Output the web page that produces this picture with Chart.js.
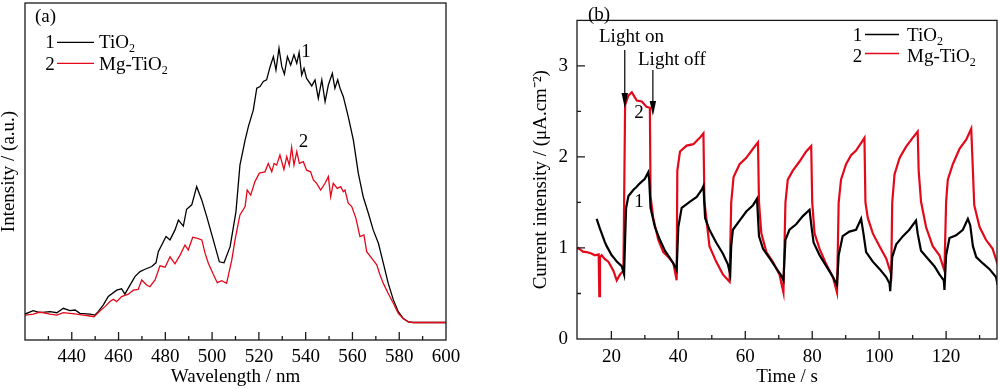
<!DOCTYPE html>
<html><head><meta charset="utf-8">
<script src="https://cdn.jsdelivr.net/npm/chart.js@4.4.1/dist/chart.umd.min.js"></script>
<style>
html,body{margin:0;padding:0;background:#fff;width:1000px;height:389px;overflow:hidden}
#wa{position:absolute;left:0;top:0;width:500px;height:389px}
#wb{position:absolute;left:500px;top:0;width:500px;height:389px}
</style></head><body>
<div id="wa"><canvas id="ca" width="500" height="389"></canvas></div>
<div id="wb"><canvas id="cb" width="500" height="389"></canvas></div>
<script>
// ---------- Panel (a): PL spectra ----------
const wlTiO2 = [420,423.5,426.4,430.7,433.6,436.4,439.2,441.4,443.5,447.8,449.9,451.3,453.5,455.6,459.2,461.3,462.7,464.1,467.0,469.2,471.3,474.2,476.0,477.0,480.3,482.0,484.1,485.6,487.7,489.1,491.3,493.4,495.6,497.7,500.5,503.1,505.1,507.7,510.2,511.9,514.1,515.5,517.6,519.1,520.5,521.9,523.3,524.8,526.2,527.3,528.6,529.8,530.9,532.2,533.6,535.0,536.2,537.2,538.3,539.3,540.4,542.6,544.0,545.4,546.9,548.3,549.7,551.4,552.5,553.7,554.7,556.1,558.2,560.4,562.5,564.6,566.8,568.9,571.1,573.2,575.3,577.5,579.6,581.7,583.9,586.0,600];
const intTiO2 = [7.7,8.7,8.1,8.4,8.1,9.4,8.7,8.9,7.9,7.7,7.4,8.4,10.4,12.9,14.8,15.2,13.6,15.3,18.8,20.3,21.0,21.8,22.9,26.2,30.7,29.7,32.6,35.6,33.8,38.8,40.1,45.5,41.5,36.6,29.7,23.2,22.9,27.7,38.1,51.9,59.3,63.3,68.2,74.7,75.2,76.7,77.2,81.1,84.1,80.1,86.6,81.1,78.9,84.1,81.6,84.6,82.1,85.3,78.6,80.6,77.6,75.4,77.2,71.7,77.2,70.7,75.7,79.1,74.7,77.2,74.7,72.2,66.3,59.3,49.5,42.5,37.6,32.6,28.7,22.8,16.8,11.9,8.4,6.4,5.4,5.2,5.2];
const wlMg = [420,423.5,426.4,430.7,433.6,436.4,439.2,442.1,444.9,447.1,449.5,452.1,454.2,456.3,457.8,459.2,461.3,464.2,466.3,468.4,469.9,472.0,473.4,475.6,477.7,479.9,482.0,484.1,486.3,488.4,489.8,491.7,493.4,495.6,497.0,498.4,500.3,502.2,504.1,506.2,508.4,509.8,511.9,514.1,515.0,516.5,518.3,520.2,522.6,524.0,525.5,526.5,527.6,529.0,530.7,531.9,533.0,534.0,535.0,536.2,537.3,539.0,540.4,542.1,543.3,544.7,546.4,548.3,549.7,550.7,551.8,553.5,555.0,556.1,556.8,558.2,559.7,561.5,563.2,564.9,566.1,568.2,570.4,571.8,573.2,575.3,577.5,579.6,581.7,583.9,586.0,600];
const intMg = [7.4,7.7,8.3,7.7,7.4,8.1,7.9,7.7,7.4,7.2,6.9,8.7,9.9,11.4,12.1,11.4,12.9,13.6,14.8,15.0,17.8,16.3,15.8,17.8,22.0,21.6,24.7,22.6,25.2,28.2,26.7,30.5,30.2,29.7,25.7,22.8,19.8,17.0,17.6,16.8,23.7,29.7,37.1,39.6,44.5,43.0,47.0,49.5,49.9,52.4,49.9,52.4,51.9,54.9,50.6,54.4,51.9,57.2,51.9,55.9,52.4,52.9,50.4,49.9,47.5,46.5,44.5,46.5,48.5,42.5,46.5,45.0,45.5,44.0,44.5,40.6,39.6,36.1,30.7,31.2,26.2,24.3,22.3,19.3,16.8,13.8,10.9,7.9,6.4,5.4,5.2,5.2];
const xTicksA = [440,460,480,500,520,540,560,580,600];
const xMinorA = [430,450,470,490,510,530,550,570,590];

// ---------- Panel (b): photocurrent ----------
const timeTiO2 = [15.6,16.5,17.1,18.0,18.6,20.1,21.0,21.6,23.1,23.8,24.1,24.4,25.1,26.6,27.5,28.5,30.0,31.0,31.3,31.7,33.0,34.5,36.0,37.5,39.0,39.5,40.0,41.0,43.5,45.5,47.0,47.5,48.0,49.3,51.3,53.3,54.8,55.5,55.8,56.3,58.3,60.3,62.3,63.5,64.1,65.3,67.3,69.2,70.7,71.4,72.0,73.2,75.2,77.2,79.2,79.7,80.4,82.2,84.2,86.2,87.4,87.9,89.1,91.1,93.1,94.6,95.3,96.1,98.1,100.1,102.1,103.1,103.3,103.9,105.1,107.1,109.0,111.0,111.5,112.5,114.5,116.5,118.0,119.3,119.5,120.0,121.0,123.0,125.0,126.5,127.2,128.0,129.0,131.0,132.9,134.9,135.4];
const currTiO2 = [1.32,1.22,1.16,1.07,1.02,0.92,0.88,0.85,0.80,0.71,1.09,1.44,1.57,1.64,1.67,1.71,1.76,1.83,1.75,1.44,1.23,1.09,0.97,0.89,0.80,0.76,1.23,1.44,1.51,1.56,1.64,1.68,1.33,1.20,1.06,0.94,0.82,0.71,1.02,1.20,1.30,1.40,1.47,1.54,1.13,0.99,0.885,0.78,0.70,0.645,1.09,1.20,1.26,1.35,1.42,1.26,1.06,0.92,0.80,0.68,0.59,0.92,1.13,1.18,1.20,1.32,1.16,0.955,0.85,0.77,0.68,0.61,0.525,0.90,1.04,1.13,1.20,1.30,1.16,0.97,0.885,0.80,0.71,0.645,0.54,0.92,1.11,1.14,1.20,1.32,1.25,1.02,0.90,0.83,0.77,0.68,0.59];
const timeMg = [9.7,10.1,11.5,12.6,14.0,15.1,16.2,16.4,16.6,17.1,18.0,19.1,20.6,21.6,22.6,23.6,24.1,25.1,26.1,27.6,29.1,30.5,31.5,31.7,32.5,34.0,35.5,37.0,38.5,39.5,39.7,40.5,42.5,44.5,46.4,47.5,47.8,49.3,51.3,53.3,55.3,55.8,56.5,58.3,60.3,62.3,63.8,64.1,64.8,66.3,68.2,70.2,71.4,72.0,72.7,74.2,76.2,78.2,79.7,80.0,80.7,82.2,84.2,86.2,87.4,87.9,88.6,90.1,91.6,93.1,95.6,95.9,96.6,98.1,100.1,102.1,103.6,103.9,104.6,106.1,108.0,110.0,111.5,111.8,112.5,114.0,116.0,118.0,119.5,120.0,120.5,122.0,124.0,126.0,127.5,128.0,128.4,130.0,131.9,133.9,135.4];
const currMg = [0.98,1.00,0.96,0.955,0.94,0.92,0.93,0.47,0.90,0.92,0.88,0.85,0.75,0.645,0.71,0.75,2.57,2.675,2.71,2.62,2.61,2.55,2.54,1.57,1.33,1.09,0.955,0.90,0.835,0.645,1.85,2.06,2.125,2.14,2.21,2.26,1.51,1.02,0.85,0.71,0.63,1.50,1.78,1.92,1.99,2.09,2.16,1.50,1.16,0.955,0.85,0.71,0.51,1.50,1.75,1.85,1.95,2.06,2.12,1.50,1.16,0.99,0.82,0.68,0.51,1.50,1.75,1.92,2.02,2.07,2.21,1.50,1.33,1.16,1.02,0.885,0.71,1.50,1.81,1.99,2.11,2.21,2.28,1.85,1.51,1.23,1.02,0.92,0.75,1.51,1.75,1.92,2.09,2.19,2.31,1.85,1.47,1.23,1.09,0.99,0.82];
const xTicksB = [20,40,60,80,100,120];
const xMinorB = [30,50,70,90,110,130];
const yTicksB = [0,1,2,3];
const yMinorB = [0.5,1.5,2.5];

const FONT = '"Liberation Serif", "Times New Roman", serif';
const RED = '#e3081a';
Chart.defaults.font.family = FONT;
Chart.defaults.color = '#000';

function rich(ctx, x, y, parts, size, align) {
  let w = 0;
  parts.forEach(p => {
    const s = (p.sub || p.sup) ? Math.round(size * 0.63) : size;
    ctx.font = s + 'px ' + FONT;
    w += ctx.measureText(p.t).width;
  });
  let cx = align === 'center' ? x - w / 2 : x;
  parts.forEach(p => {
    const s = (p.sub || p.sup) ? Math.round(size * 0.63) : size;
    ctx.font = s + 'px ' + FONT;
    const dy = p.sub ? 4 : (p.sup ? -7 : 0);
    ctx.fillText(p.t, cx, y + dy);
    cx += ctx.measureText(p.t).width;
  });
}

const framePlugin = {
  id: 'frame',
  afterDatasetsDraw(chart, args, o) {
    const {ctx, chartArea: a, scales: {x, y}} = chart;
    ctx.save();
    ctx.strokeStyle = '#1a1a1a';
    ctx.lineWidth = 1.3;
    ctx.beginPath();
    const xt = (vals, len) => vals.forEach(v => {
      const px = x.getPixelForValue(v);
      if (px <= a.left + 1 || px >= a.right - 1) return;
      ctx.moveTo(px, a.bottom); ctx.lineTo(px, a.bottom - len);
    });
    const yt = (vals, len) => vals.forEach(v => {
      const py = y.getPixelForValue(v);
      if (py <= a.top + 1 || py >= a.bottom - 1) return;
      ctx.moveTo(a.left, py); ctx.lineTo(a.left + len, py);
    });
    xt(o.xMajor || [], 8); xt(o.xMinor || [], 4);
    yt(o.yMajor || [], 8); yt(o.yMinor || [], 4);
    ctx.stroke();
    ctx.strokeRect(a.left, a.top, a.right - a.left, a.bottom - a.top);
    // legend lines
    (o.lines || []).forEach(l => {
      ctx.beginPath(); ctx.strokeStyle = l.c; ctx.lineWidth = l.w || 1.3;
      ctx.moveTo(l.x1, l.y); ctx.lineTo(l.x2, l.y); ctx.stroke();
    });
    // arrows
    (o.arrows || []).forEach(ar => {
      const px = x.getPixelForValue(ar.t);
      ctx.beginPath(); ctx.strokeStyle = '#000'; ctx.lineWidth = 1.2;
      ctx.moveTo(px, ar.y1); ctx.lineTo(px, ar.y2 - 10); ctx.stroke();
      ctx.beginPath(); ctx.fillStyle = '#000';
      ctx.moveTo(px, ar.y2); ctx.lineTo(px - 3.2, ar.y2 - 15); ctx.lineTo(px + 3.2, ar.y2 - 15); ctx.closePath(); ctx.fill();
    });
    // texts
    ctx.fillStyle = '#000';
    ctx.textBaseline = 'alphabetic';
    ctx.textAlign = 'left';
    (o.texts || []).forEach(t => rich(ctx, t.x, t.y, t.parts, 19, t.align));
    ctx.restore();
  }
};

const sub2 = [{t: 'TiO'}, {t: '2', sub: true}];
const subMg = [{t: 'Mg-TiO'}, {t: '2', sub: true}];

new Chart(document.getElementById('ca'), {
  type: 'line',
  data: {datasets: [
    {label: 'Mg-TiO2', data: wlMg.map((v, i) => ({x: v, y: intMg[i]})), borderColor: RED, borderWidth: 1.3, pointRadius: 0, tension: 0, fill: false},
    {label: 'TiO2', data: wlTiO2.map((v, i) => ({x: v, y: intTiO2[i]})), borderColor: '#000', borderWidth: 1.3, pointRadius: 0, tension: 0, fill: false}
  ]},
  options: {
    responsive: false, animation: false, devicePixelRatio: 1,
    layout: {padding: {top: 3, right: 54, left: 0, bottom: 0}},
    plugins: {
      legend: {display: false}, tooltip: {enabled: false},
      frame: {
        xMajor: xTicksA, xMinor: xMinorA,
        lines: [{x1: 57, x2: 94, y: 42.3, c: '#000'}, {x1: 57, x2: 94, y: 63.3, c: RED}],
        texts: [
          {x: 35, y: 22, parts: [{t: '(a)'}]},
          {x: 50, y: 47.5, parts: [{t: '1'}], align: 'center'},
          {x: 99, y: 47.5, parts: sub2},
          {x: 50, y: 70, parts: [{t: '2'}], align: 'center'},
          {x: 99, y: 70, parts: subMg},
          {x: 306, y: 56.5, parts: [{t: '1'}], align: 'center'},
          {x: 303.5, y: 146.5, parts: [{t: '2'}], align: 'center'}
        ]
      }
    },
    scales: {
      x: {type: 'linear', min: 420, max: 600,
        grid: {display: false, drawTicks: false}, border: {display: false},
        afterBuildTicks: s => { s.ticks = xTicksA.map(v => ({value: v})); },
        afterFit: s => { s.height = 49; },
        ticks: {autoSkip: false, maxRotation: 0, padding: 6, font: {size: 19}, color: '#000'},
        title: {display: true, text: 'Wavelength / nm', font: {size: 19, lineHeight: 1}, color: '#000', padding: {top: 0, bottom: 2}}},
      y: {type: 'linear', min: 0, max: 100,
        grid: {display: false, drawTicks: false}, border: {display: false},
        ticks: {display: false},
        afterFit: s => { s.width = 25; },
        title: {display: true, text: 'Intensity / (a.u.)', font: {size: 19, lineHeight: 1}, color: '#000', padding: {top: 0, bottom: 0}}}
    }
  },
  plugins: [framePlugin]
});

new Chart(document.getElementById('cb'), {
  type: 'line',
  data: {datasets: [
    {label: 'TiO2', data: timeTiO2.map((v, i) => ({x: v, y: currTiO2[i]})), borderColor: '#000', borderWidth: 2.2, pointRadius: 0, tension: 0, fill: false},
    {label: 'Mg-TiO2', data: timeMg.map((v, i) => ({x: v, y: currMg[i]})), borderColor: RED, borderWidth: 2.2, pointRadius: 0, tension: 0, fill: false}
  ]},
  options: {
    responsive: false, animation: false, devicePixelRatio: 1,
    layout: {padding: {top: 1, right: 3, left: 0, bottom: 0}},
    plugins: {
      legend: {display: false}, tooltip: {enabled: false},
      frame: {
        xMajor: xTicksB, xMinor: xMinorB, yMajor: yTicksB, yMinor: yMinorB,
        lines: [{x1: 365, x2: 399, y: 34.5, c: '#000'}, {x1: 365, x2: 399, y: 53.5, c: RED}],
        arrows: [{t: 24.0, y1: 50, y2: 108}, {t: 32.4, y1: 70, y2: 116}],
        texts: [
          {x: 88, y: 19.5, parts: [{t: '(b)'}]},
          {x: 99, y: 41.5, parts: [{t: 'Light on'}]},
          {x: 138, y: 65, parts: [{t: 'Light off'}]},
          {x: 357.5, y: 40.5, parts: [{t: '1'}], align: 'center'},
          {x: 407, y: 40.5, parts: sub2},
          {x: 357.5, y: 61.5, parts: [{t: '2'}], align: 'center'},
          {x: 407, y: 61.5, parts: subMg},
          {x: 139, y: 118, parts: [{t: '2'}], align: 'center'},
          {x: 139, y: 207, parts: [{t: '1'}], align: 'center'}
        ]
      }
    },
    scales: {
      x: {type: 'linear', min: 9.73, max: 135.2,
        grid: {display: false, drawTicks: false}, border: {display: false},
        afterBuildTicks: s => { s.ticks = xTicksB.map(v => ({value: v})); },
        afterFit: s => { s.height = 50; },
        ticks: {autoSkip: false, maxRotation: 0, padding: 7, font: {size: 19}, color: '#000'},
        title: {display: true, text: 'Time / s', font: {size: 19, lineHeight: 1}, color: '#000', padding: {top: 0, bottom: 2}}},
      y: {type: 'linear', min: 0, max: 3.5,
        grid: {display: false, drawTicks: false}, border: {display: false},
        afterBuildTicks: s => { s.ticks = yTicksB.map(v => ({value: v})); },
        afterFit: s => { s.width = 77; },
        ticks: {autoSkip: false, padding: 9, font: {size: 19}, color: '#000'},
        title: {display: true, text: 'Current intensity / (\u03bcA.cm\u207b\u00b2)', font: {size: 19, lineHeight: 1}, color: '#000', padding: {top: 32, bottom: 0}}}
    }
  },
  plugins: [framePlugin]
});
</script>
</body></html>
